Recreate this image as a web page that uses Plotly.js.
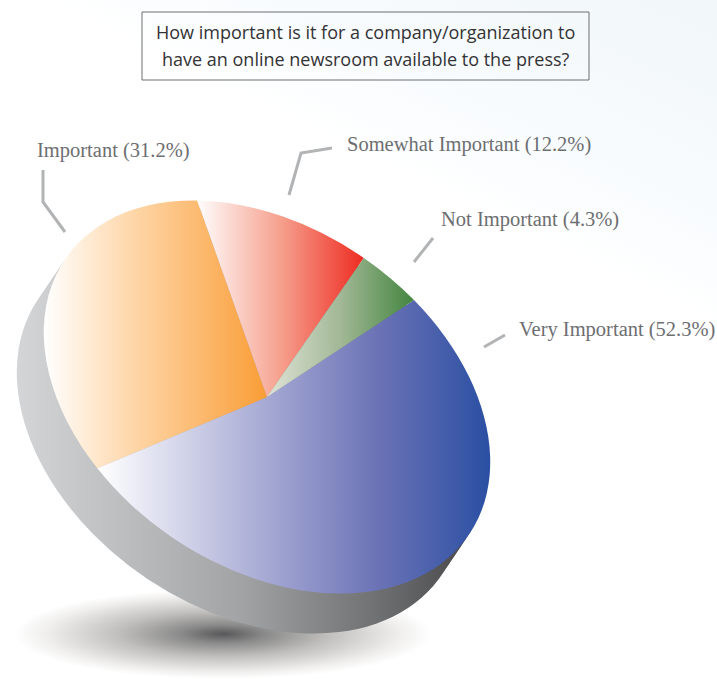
<!DOCTYPE html>
<html>
<head>
<meta charset="utf-8">
<script src="https://cdn.plot.ly/plotly-3.0.1.min.js"></script>
<style>html,body{margin:0;padding:0;background:#fff}#chart{width:717px;height:679px}</style>
</head>
<body>
<div id="chart"></div>
<script>
// ---- data ----
const categories = ["Very Important", "Important", "Somewhat Important", "Not Important"];
const shares = [52.3, 31.2, 12.2, 4.3];
const titleLines = ["How important is it for a company/organization to", "have an online newsroom available to the press?"];

// ---- page geometry ----
const W = 717, H = 679;
const px = x => x / W, py = y => 1 - y / H;
const disc = {x: 267, y: 397, a: 147, b: -97, c: 168, d: 171};   // tilt of the disc
const depth = {x: -27, y: 40};
const depthSteps = [1, 0.8, 0.6, 0.4, 0.2];

// slice gradient: screen x range and stops
const sliceFills = [
  {x1: 98,  x2: 490, stops: [[0, "#ffffff"], [0.5, "#979bcc"], [0.72, "#6a72b5"], [1, "#2a4fa3"]]},
  {x1: 44,  x2: 267, stops: [[0, "#ffffff"], [0.4, "#fed6a8"], [1, "#f99d36"]]},
  {x1: 196, x2: 362, stops: [[0, "#ffffff"], [0.5, "#f6a28f"], [1, "#ee2e24"]]},
  {x1: 267, x2: 414, stops: [[0, "#dfe3d6"], [0.5, "#a2b896"], [1, "#43853f"]]}
];
const sideFill = {x1: 17, x2: 465, stops: [[0, "#d3d5d7"], [0.5, "#a1a3a5"], [0.8, "#707173"], [1, "#4b4b4d"]]};

const labels = [
  {text: "Important (31.2%)", x: 37, y: 150},
  {text: "Somewhat Important (12.2%)", x: 347, y: 144},
  {text: "Not Important (4.3%)", x: 441, y: 220},
  {text: "Very Important (52.3%)", x: 519, y: 329}
];
const leaders = [
  [[43, 170], [43, 202], [65, 232]],
  [[332, 148], [301, 153], [289, 195]],
  [[433, 238], [414, 262]],
  [[505, 335], [484, 347]]
];

const pieBase = {type: "pie", sort: false, direction: "clockwise", rotation: 90, textinfo: "none",
  hoverinfo: "skip", showlegend: false, domain: {x: [0, 1], y: [0, 1]}};

const traces = depthSteps.map(() => Object.assign({}, pieBase, {
  values: [100], labels: ["side"], marker: {colors: ["#999999"], line: {width: 0}}
}));
traces.push(Object.assign({}, pieBase, {
  values: shares, labels: categories,
  marker: {colors: ["#6f77b8", "#fbb36c", "#f2705c", "#7fa573"], line: {width: 0}}
}));

const shapes = [
  {type: "rect", layer: "below", xref: "paper", yref: "paper", x0: 0, x1: 1, y0: 0, y1: 1,
   fillcolor: "#f6fafc", line: {width: 0}},
  {type: "circle", layer: "below", xref: "paper", yref: "paper",
   x0: px(14), x1: px(432), y0: py(679), y1: py(589), fillcolor: "#aaaaaa", line: {width: 0}},
  {type: "rect", layer: "above", xref: "paper", yref: "paper",
   x0: px(142), x1: px(589), y0: py(80), y1: py(12), line: {color: "#6d6e71", width: 1}}
];
leaders.forEach(pts => {
  const path = pts.map((p, i) => (i ? "L" : "M") + px(p[0]) + "," + py(p[1])).join(" ");
  shapes.push({type: "path", xref: "paper", yref: "paper", path: path, layer: "above",
    line: {color: "#b1b3b4", width: 3}});
});

const annotations = labels.map(l => ({
  text: l.text, xref: "paper", yref: "paper", x: px(l.x), y: py(l.y), xanchor: "left", yanchor: "middle",
  showarrow: false, borderpad: 0, borderwidth: 0,
  font: {family: "Liberation Serif, serif", size: 20.5, color: "#6d6e71"}
}));
titleLines.forEach((t, i) => annotations.push({
  text: t, xref: "paper", yref: "paper", x: px(365.5), y: py(32 + i * 26.5), xanchor: "center", yanchor: "middle",
  showarrow: false, borderpad: 0, font: {family: "Open Sans, sans-serif", size: 18, color: "#333335"}
}));

const layout = {width: W, height: H, margin: {l: 0, r: 0, t: 0, b: 0}, showlegend: false,
  paper_bgcolor: "#ffffff", shapes: shapes, annotations: annotations};

const gd = document.getElementById("chart");
Plotly.newPlot(gd, traces, layout, {displayModeBar: false, responsive: false}).then(() => {
  const NS = "http://www.w3.org/2000/svg";
  const defs = gd.querySelector("svg.main-svg defs");
  let uid = 0;
  function gradient(attrs, stops, radial) {
    const g = document.createElementNS(NS, radial ? "radialGradient" : "linearGradient");
    const id = "grad" + (uid++);
    g.setAttribute("id", id);
    Object.keys(attrs).forEach(k => g.setAttribute(k, attrs[k]));
    stops.forEach(s => {
      const st = document.createElementNS(NS, "stop");
      st.setAttribute("offset", s[0]);
      st.setAttribute("stop-color", s[1]);
      g.appendChild(st);
    });
    defs.appendChild(g);
    return "url(#" + id + ")";
  }
  function paint(el, f) {
    const m = el.getCTM().inverse();
    el.style.fill = gradient({gradientUnits: "userSpaceOnUse", x1: f.x1, x2: f.x2, y1: 0, y2: 0,
      gradientTransform: `matrix(${m.a},${m.b},${m.c},${m.d},${m.e},${m.f})`}, f.stops);
  }
  const groups = gd.querySelectorAll(".pielayer .trace");
  groups.forEach((g, i) => {
    const c = gd.calcdata[i][0];
    const k = i < depthSteps.length ? depthSteps[i] : 0;
    const tx = disc.x + depth.x * k, ty = disc.y + depth.y * k, R = c.r;
    g.setAttribute("transform",
      `translate(${tx},${ty}) matrix(${disc.a / R},${disc.b / R},${disc.c / R},${disc.d / R},0,0) translate(${-c.cx},${-c.cy})`);
    g.querySelectorAll("path.surface").forEach((p, j) => {
      paint(p, i < depthSteps.length ? sideFill : sliceFills[j]);
    });
  });
  const below = gd.querySelectorAll(".layer-below .shapelayer path");
  below[0].style.fill = gradient({gradientUnits: "userSpaceOnUse", x1: 600, y1: -20, x2: 485, y2: 219},
    [[0, "#f2f7fa"], [0.55, "#f7fbfd"], [1, "#ffffff"]]);
  below[0].style.fillOpacity = 1;
  below[1].style.fill = gradient({cx: 0.5, cy: 0.5, r: 0.5, fx: 0.5, fy: 0.5},
    [[0, "#58585a"], [0.2, "#8a8a8a"], [0.5, "#c0bfbd"], [0.85, "#f0efee"], [1, "#ffffff"]], true);
  below[1].style.fillOpacity = 1;
});
</script>
</body>
</html>
